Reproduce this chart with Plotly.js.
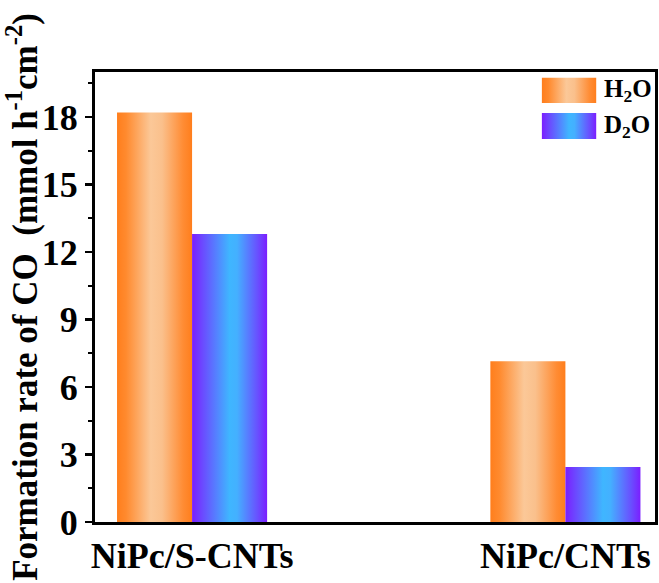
<!DOCTYPE html>
<html><head><meta charset="utf-8">
<script src="https://cdn.plot.ly/plotly-3.0.1.min.js"></script>
<style>body{margin:0;background:#fff}</style>
</head><body>
<div id="chart" style="width:659px;height:583px"></div>
<script>
const categories = ["NiPc/S-CNTs", "NiPc/CNTs"];
const h2oValues = [18.2, 7.15];
const d2oValues = [12.8, 2.45];
const seriesNames = ["H<sub>2</sub>O", "D<sub>2</sub>O"];
const yTicks = [0, 3, 6, 9, 12, 15, 18];
const yMinorTicks = [1.5, 4.5, 7.5, 10.5, 13.5, 16.5, 19.5];

const font = {family: "Liberation Serif, Times New Roman, serif", color: "#000"};

const traces = [
  {type: "bar", x: categories, y: h2oValues, name: seriesNames[0], marker: {color: "#FF8A2E", line: {width: 0}}, showlegend: false},
  {type: "bar", x: categories, y: d2oValues, name: seriesNames[1], marker: {color: "#5A6BFF", line: {width: 0}}, showlegend: false}
];

const layout = {
  width: 659, height: 583,
  margin: {l: 95, r: 4, t: 72, b: 61},
  paper_bgcolor: "#fff", plot_bgcolor: "#fff",
  barmode: "group", bargap: 0.598, bargroupgap: 0,
  font: font,
  xaxis: {
    range: [-0.26, 1.24], showline: true, linewidth: 3, linecolor: "#000", mirror: true,
    ticks: "", showgrid: false, zeroline: false, automargin: false,
    tickfont: {family: font.family, size: 36, color: "#000", weight: "bold"}
  },
  yaxis: {
    range: [0, 20], showline: true, linewidth: 3, linecolor: "#000", mirror: true,
    tickvals: yTicks, ticktext: yTicks.map(String), automargin: false,
    ticks: "outside", ticklen: 7, tickwidth: 2.5, tickcolor: "#000",
    minor: {tickvals: yMinorTicks, ticks: "outside", ticklen: 4, tickwidth: 2, tickcolor: "#000", showgrid: false},
    showgrid: false, zeroline: false,
    tickfont: {family: font.family, size: 36, color: "#000", weight: "bold"},
    title: {text: "Formation rate of CO  (mmol h<sup>-1</sup>cm<sup>-2</sup>)", standoff: 3,
            font: {family: font.family, size: 35, color: "#000", weight: "bold"}}
  },
  shapes: [
    {type: "rect", xref: "paper", yref: "paper", x0: 0.798, x1: 0.895, y0: 0.931, y1: 0.987, line: {width: 0}, fillcolor: "#FF8A2E", layer: "above"},
    {type: "rect", xref: "paper", yref: "paper", x0: 0.798, x1: 0.895, y0: 0.851, y1: 0.909, line: {width: 0}, fillcolor: "#5A6BFF", layer: "above"}
  ],
  annotations: [
    {xref: "paper", yref: "paper", x: 0.905, y: 0.959, xanchor: "left", yanchor: "middle", showarrow: false, text: "<b>" + seriesNames[0] + "</b>", font: {family: font.family, size: 25, color: "#000"}},
    {xref: "paper", yref: "paper", x: 0.905, y: 0.88, xanchor: "left", yanchor: "middle", showarrow: false, text: "<b>" + seriesNames[1] + "</b>", font: {family: font.family, size: 25, color: "#000"}}
  ]
};

function addGradients(gd) {
  const svg = gd.querySelector("svg.main-svg");
  const ns = "http://www.w3.org/2000/svg";
  let defs = svg.querySelector("defs");
  if (!defs) { defs = document.createElementNS(ns, "defs"); svg.insertBefore(defs, svg.firstChild); }
  function grad(id, stops) {
    const g = document.createElementNS(ns, "linearGradient");
    g.setAttribute("id", id); g.setAttribute("x1", "0"); g.setAttribute("x2", "1"); g.setAttribute("y1", "0"); g.setAttribute("y2", "0");
    stops.forEach(s => { const st = document.createElementNS(ns, "stop"); st.setAttribute("offset", s[0]); st.setAttribute("stop-color", s[1]); g.appendChild(st); });
    defs.appendChild(g);
  }
  grad("gOrange", [["0", "#FF7E1C"], ["0.12", "#FF8A2E"], ["0.45", "#FBC898"], ["0.6", "#FAC08C"], ["0.88", "#FF8C34"], ["1", "#FF7E1C"]]);
  grad("gBlue", [["0", "#7B1EFF"], ["0.15", "#6A4DFF"], ["0.5", "#3FB6FF"], ["0.6", "#44B0FF"], ["0.88", "#6A4DFF"], ["1", "#7B1EFF"]]);
  const tr = gd.querySelectorAll(".barlayer .trace");
  tr.forEach((t, i) => {
    t.querySelectorAll("path").forEach(p => { p.style.fill = i === 0 ? "url(#gOrange)" : "url(#gBlue)"; });
  });
  const sh = gd.querySelectorAll(".shapelayer path");
  sh.forEach((p, i) => { p.style.fill = i === 0 ? "url(#gOrange)" : "url(#gBlue)"; p.style.fillOpacity = 1; });
}

Plotly.newPlot("chart", traces, layout, {staticPlot: true}).then(addGradients);
</script>
</body></html>
